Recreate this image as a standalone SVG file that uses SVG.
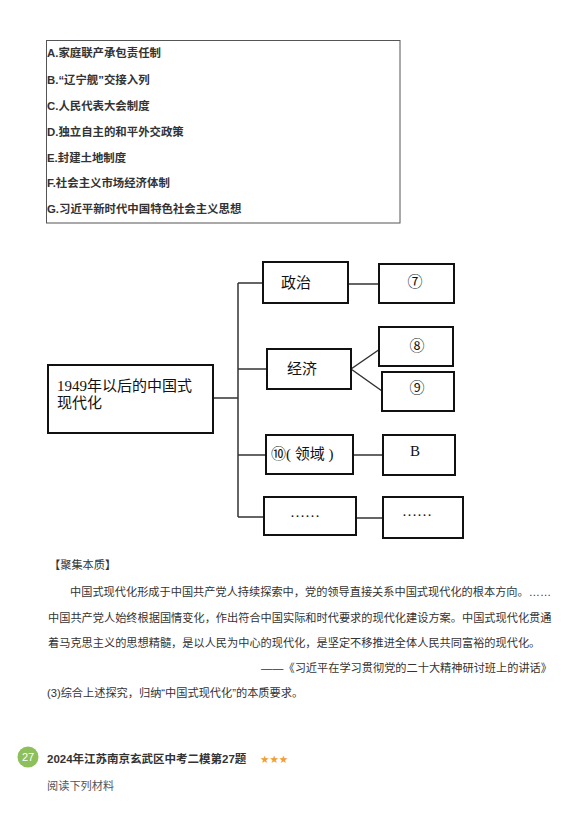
<svg xmlns="http://www.w3.org/2000/svg" width="578" height="813" viewBox="0 0 578 813">
<style>
.opt{font-family:"Liberation Sans","Noto Sans CJK SC",sans-serif;font-size:11.4px;font-weight:bold;fill:#333;dominant-baseline:central}
.box{fill:#fff;stroke:#111;stroke-width:2}
.dt{font-family:"Liberation Serif","Noto Sans CJK SC",serif;font-size:15px;fill:#111;dominant-baseline:central}
.ln{stroke:#333;stroke-width:1.5;fill:none}
.p{font-family:"Liberation Sans","Noto Sans CJK SC",sans-serif;font-size:11.2px;fill:#333;dominant-baseline:central}
</style>
<rect width="578" height="813" fill="#fff"/>
<g id="options">
<rect x="46.5" y="40.5" width="353.5" height="182.5" fill="none" stroke="#555" stroke-width="1"/>
<text class="opt" x="47" y="53">A.家庭联产承包责任制</text>
<text class="opt" x="47" y="80">B.“辽宁舰”交接入列</text>
<text class="opt" x="47" y="106">C.人民代表大会制度</text>
<text class="opt" x="47" y="132">D.独立自主的和平外交政策</text>
<text class="opt" x="47" y="158">E.封建土地制度</text>
<text class="opt" x="47" y="183">F.社会主义市场经济体制</text>
<text class="opt" x="47" y="209">G.习近平新时代中国特色社会主义思想</text>
</g>
<g id="connectors">
<path class="ln" d="M213 398H238M238 283V517M238 283H263M238 369H267M238 455H266M238 517H264"/>
<path class="ln" d="M348 284H379M351 369L380 349M351 369L382 391M353 455H383M356 518H383"/>
</g>
<g id="main"><rect class="box" x="48" y="365" width="165" height="68"/>
<text class="dt" x="57" y="386">1949年以后的中国式</text>
<text class="dt" x="57" y="403">现代化</text></g>
<g id="zhengzhi"><rect class="box" x="263" y="262" width="85" height="41"/><text class="dt" x="296" y="283" text-anchor="middle">政治</text></g>
<g id="n7"><rect class="box" x="379" y="264" width="75" height="39"/><text class="dt" x="415" y="282" text-anchor="middle">⑦</text></g>
<g id="jingji"><rect class="box" x="267" y="349" width="84" height="40"/><text class="dt" x="302" y="369" text-anchor="middle">经济</text></g>
<g id="n8"><rect class="box" x="379" y="327" width="74" height="39"/><text class="dt" x="417" y="346" text-anchor="middle">⑧</text></g>
<g id="n9"><rect class="box" x="382" y="372" width="72" height="39"/><text class="dt" x="417" y="388" text-anchor="middle">⑨</text></g>
<g id="n10"><rect class="box" x="266" y="435" width="87" height="39"/><text class="dt" x="271" y="454">⑩( 领域 )</text></g>
<g id="nB"><rect class="box" x="383" y="435" width="72" height="40"/><text class="dt" x="415" y="451" text-anchor="middle">B</text></g>
<g id="more1"><rect class="box" x="264" y="497" width="92" height="38"/><text class="dt" x="305" y="512" text-anchor="middle">……</text></g>
<g id="more2"><rect class="box" x="383" y="497" width="80" height="41"/><text class="dt" x="417" y="511" text-anchor="middle">……</text></g>
<g id="text">
<text class="p" x="49" y="565">【聚集本质】</text>
<text class="p" x="70" y="592">中国式现代化形成于中国共产党人持续探索中，党的领导直接关系中国式现代化的根本方向。……</text>
<text class="p" x="48" y="618">中国共产党人始终根据国情变化，作出符合中国实际和时代要求的现代化建设方案。中国式现代化贯通</text>
<text class="p" x="48" y="643">着马克思主义的思想精髓，是以人民为中心的现代化，是坚定不移推进全体人民共同富裕的现代化。</text>
<text class="p" x="552" y="668" text-anchor="end">——《习近平在学习贯彻党的二十大精神研讨班上的讲话》</text>
<text class="p" x="47" y="693">(3)综合上述探究，归纳“中国式现代化”的本质要求。</text>
</g>
<g id="q27">
<circle cx="28" cy="757" r="10.5" fill="#8dc05a"/>
<text x="28" y="757" text-anchor="middle" style="font-family:'Liberation Sans',sans-serif;font-size:11px;fill:#fff;dominant-baseline:central">27</text>
<text x="47" y="759" style="font-family:'Liberation Sans','Noto Sans CJK SC',sans-serif;font-size:11.5px;font-weight:bold;fill:#333;dominant-baseline:central">2024年江苏南京玄武区中考二模第27题</text>
<text x="260" y="759" style="font-family:'DejaVu Sans',sans-serif;font-size:10.5px;fill:#f0a030;dominant-baseline:central">★★★</text>
<text x="47" y="786" style="font-family:'Liberation Sans','Noto Sans CJK SC',sans-serif;font-size:11.2px;fill:#555;dominant-baseline:central">阅读下列材料</text>
</g>
</svg>
